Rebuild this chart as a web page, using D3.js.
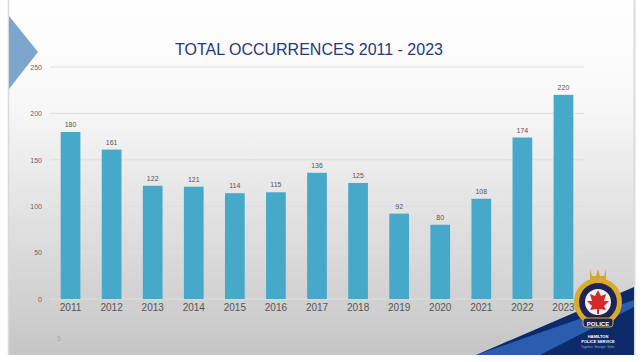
<!DOCTYPE html>
<html>
<head>
<meta charset="utf-8">
<script src="https://cdn.jsdelivr.net/npm/d3@7"></script>
<style>
  html, body { margin: 0; padding: 0; background: #fff; }
  svg { display: block; font-family: "Liberation Sans", Arial, sans-serif; }
</style>
</head>
<body>
<div id="chart"></div>
<script>
const years = ["2011", "2012", "2013", "2014", "2015", "2016", "2017", "2018", "2019", "2020", "2021", "2022", "2023"];
const occurrences = [180, 161, 122, 121, 114, 115, 136, 125, 92, 80, 108, 174, 220];
const yTicks = [0, 50, 100, 150, 200, 250];

const W = 642, H = 362;
const svg = d3.select("#chart").append("svg")
    .attr("width", W)
    .attr("height", H);

const defs = svg.append("defs");
const bg = defs.append("linearGradient")
    .attr("id", "bg").attr("x1", 0).attr("y1", 0).attr("x2", 0).attr("y2", 1);
bg.append("stop").attr("offset", "0%").attr("stop-color", "#ffffff");
bg.append("stop").attr("offset", "30%").attr("stop-color", "#f7f7f7");
bg.append("stop").attr("offset", "100%").attr("stop-color", "#c6c6c6");

// slide background
svg.append("rect")
    .attr("x", 8).attr("y", 0)
    .attr("width", 626).attr("height", 355)
    .attr("fill", "url(#bg)");
svg.append("line")
    .attr("x1", 8.5).attr("x2", 8.5).attr("y1", 0).attr("y2", 355)
    .attr("stroke", "#d9d9d9").attr("stroke-width", 1.5);
svg.append("line")
    .attr("x1", 634.5).attr("x2", 634.5).attr("y1", 0).attr("y2", 355)
    .attr("stroke", "#dcdcdc").attr("stroke-width", 2);

// left arrow decoration
svg.append("path")
    .attr("d", "M9,16 L38,52 L9,89 Z")
    .attr("fill", "#7ea6cc");

const x = d3.scaleBand()
    .domain(years)
    .range([50, 584])
    .paddingInner(0.52)
    .paddingOuter(0.26);

const y = d3.scaleLinear()
    .domain([0, 250])
    .range([299, 67]);

// gridlines
svg.append("g")
    .selectAll("line")
    .data(yTicks)
    .enter()
    .append("line")
    .attr("x1", 50).attr("x2", 584)
    .attr("y1", d => y(d)).attr("y2", d => y(d))
    .attr("stroke", "#dedede")
    .attr("stroke-width", 1);

// y axis labels
const yAxis = svg.append("g")
    .attr("transform", "translate(44,0)")
    .call(d3.axisLeft(y).tickValues(yTicks).tickSize(0).tickPadding(2));
yAxis.select(".domain").remove();
yAxis.selectAll("text")
    .attr("fill", "#666")
    .style("font-size", "7px");

// bars
svg.selectAll(".bar")
    .data(occurrences)
    .enter()
    .append("rect")
    .attr("class", "bar")
    .attr("x", (d, i) => x(years[i]))
    .attr("y", d => y(d))
    .attr("width", x.bandwidth())
    .attr("height", d => y(0) - y(d))
    .attr("fill", "#46a9c9");

// value labels
svg.selectAll(".label")
    .data(occurrences)
    .enter()
    .append("text")
    .attr("class", "label")
    .attr("x", (d, i) => x(years[i]) + x.bandwidth() / 2)
    .attr("y", d => y(d) - 5)
    .attr("text-anchor", "middle")
    .attr("fill", "#555")
    .style("font-size", "7px")
    .text(d => d);

// x axis labels
const xAxis = svg.append("g")
    .attr("transform", `translate(0,${y(0)})`)
    .call(d3.axisBottom(x).tickSize(0).tickPadding(5));
xAxis.select(".domain").remove();
xAxis.selectAll("text")
    .attr("fill", "#555")
    .style("font-size", "10px");

// title
svg.append("text")
    .attr("x", 309)
    .attr("y", 55)
    .attr("text-anchor", "middle")
    .attr("fill", "#24397a")
    .style("font-size", "16px")
    .text("TOTAL OCCURRENCES 2011 - 2023");

// slide number
svg.append("text")
    .attr("x", 59)
    .attr("y", 341)
    .attr("text-anchor", "middle")
    .attr("fill", "#aaa")
    .style("font-size", "7px")
    .text("5");

// logo corner
const logo = svg.append("g");
logo.append("path")
    .attr("d", "M476,355 L634,287 L634,355 Z")
    .attr("fill", "#0d2a6b");
logo.append("path")
    .attr("d", "M476,355 L634,300 L634,307 L540,355 Z")
    .attr("fill", "#2a5db0");
logo.append("path")
    .attr("d", "M590,269 L592,276 L596,276 L598,269 L600,276 L604,276 L606,269 L606,281 L590,281 Z")
    .attr("fill", "#d4a528");
logo.append("circle")
    .attr("cx", 598).attr("cy", 302).attr("r", 24)
    .attr("fill", "#d9aa2c");
logo.append("circle")
    .attr("cx", 598).attr("cy", 302).attr("r", 19)
    .attr("fill", "#1c2556");
logo.append("circle")
    .attr("cx", 598).attr("cy", 302).attr("r", 13)
    .attr("fill", "#f2f2f2");
logo.append("path")
    .attr("d", "M598,290 L601,296 L606,294 L604,301 L609,301 L604,306 L606,310 L599,309 L599,314 L597,314 L597,309 L590,310 L592,306 L587,301 L592,301 L590,294 L595,296 Z")
    .attr("fill", "#d42a27");
logo.append("rect")
    .attr("x", 583).attr("y", 318).attr("width", 30).attr("height", 9).attr("rx", 3)
    .attr("fill", "#1c2556").attr("stroke", "#d9aa2c");
logo.append("text")
    .attr("x", 598).attr("y", 325.5).attr("text-anchor", "middle")
    .attr("fill", "#fff").style("font-size", "6px").style("font-weight", "bold")
    .text("POLICE");
logo.append("text")
    .attr("x", 598).attr("y", 338).attr("text-anchor", "middle")
    .attr("fill", "#fff").style("font-size", "4px").style("font-weight", "bold")
    .text("HAMILTON");
logo.append("text")
    .attr("x", 598).attr("y", 343).attr("text-anchor", "middle")
    .attr("fill", "#fff").style("font-size", "4px").style("font-weight", "bold")
    .text("POLICE SERVICE");
logo.append("text")
    .attr("x", 598).attr("y", 348).attr("text-anchor", "middle")
    .attr("fill", "#aab").style("font-size", "3px")
    .text("Together. Stronger. Safer.");
</script>
</body>
</html>
